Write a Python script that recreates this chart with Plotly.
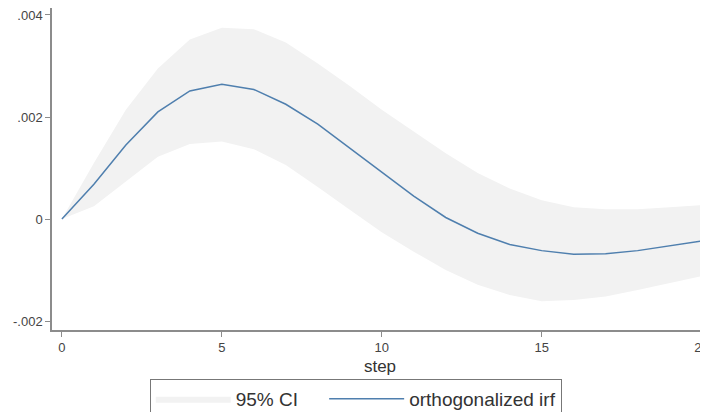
import plotly.graph_objects as go

steps = list(range(21))
irf = [0.0, 0.00068, 0.00145, 0.0021, 0.00251, 0.00264, 0.00254, 0.00225, 0.00186, 0.00139,
       0.00092, 0.00045, 0.00003, -0.00028, -0.0005, -0.00062, -0.00069, -0.00068, -0.00062,
       -0.00053, -0.00043]
ci_upper = [0.0, 0.0011, 0.00214, 0.00295, 0.00352, 0.00375, 0.00372, 0.00346, 0.00305, 0.00261,
            0.00214, 0.00171, 0.00129, 0.0009, 0.0006, 0.00037, 0.00023, 0.00019, 0.00019,
            0.00023, 0.00027]
ci_lower = [0.0, 0.00025, 0.00073, 0.00122, 0.00147, 0.00152, 0.00137, 0.00106, 0.00063, 0.00018,
            -0.00026, -0.00064, -0.001, -0.00129, -0.00149, -0.00161, -0.00159, -0.00152,
            -0.00139, -0.00126, -0.00112]
y_ticks = [-0.002, 0, 0.002, 0.004]
y_tick_labels = ["-.002", "0", ".002", ".004"]
x_ticks = [0, 5, 10, 15, 20]

fig = go.Figure()
fig.add_trace(go.Scatter(
    x=steps + steps[::-1], y=ci_upper + ci_lower[::-1],
    fill="toself", fillcolor="#f2f2f2", line=dict(width=0, color="#f2f2f2"),
    mode="lines", name="95% CI" + "\u00a0" * 4, hoverinfo="skip"))
fig.add_trace(go.Scatter(
    x=steps, y=irf, mode="lines", name="orthogonalized irf",
    line=dict(color="#4f7fae", width=1.5)))

axis_col = "#8c8c8c"
# page body adds an 8px offset; figure is sized/margined to compensate
fig.update_layout(
    width=700, height=404,
    margin=dict(l=44, r=0, t=0, b=82, autoexpand=False),
    paper_bgcolor="white", plot_bgcolor="white",
    font=dict(family="Liberation Sans, Arial, sans-serif", color="#333333", size=13),
    xaxis=dict(range=[-0.31, 20.2], tickvals=x_ticks, showgrid=False, zeroline=False,
               showline=True, linecolor=axis_col, linewidth=1.5, ticks="outside",
               ticklen=5, tickcolor=axis_col, tickfont=dict(size=13, color="#444444"),
               ticklabeloverflow="allow",
               title=dict(text="step", font=dict(size=17, color="#333333"), standoff=6)),
    yaxis=dict(range=[-0.002176, 0.004137], tickvals=y_ticks, ticktext=y_tick_labels,
               showgrid=False, zeroline=False, showline=True, linecolor=axis_col,
               linewidth=1.5, ticks="outside", ticklen=5, tickcolor=axis_col,
               ticklabeloverflow="allow",
               tickfont=dict(size=13, color="#444444")),
    legend=dict(orientation="h", x=0.463, xanchor="center", y=-0.152, yanchor="top",
                bordercolor="#777777", borderwidth=1, font=dict(size=19, color="#333333"),
                itemwidth=75, traceorder="normal"),
    showlegend=True,
)
fig.write_html("out.html")
